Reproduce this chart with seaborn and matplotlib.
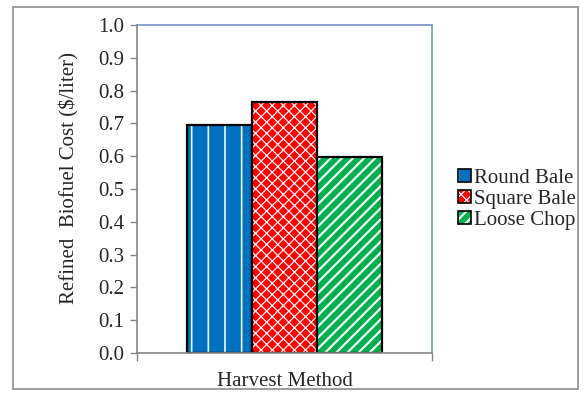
import matplotlib
matplotlib.use("Agg")
import matplotlib.pyplot as plt
import seaborn as sns
import pandas as pd
from matplotlib.patches import Rectangle, Patch

methods = ["Round Bale", "Square Bale", "Loose Chop"]
costs = [0.695, 0.766, 0.598]
group = ["Harvest Method"] * 3
colors = ["#0070c0", "#ff0000", "#00b050"]
hatches = ["|", "xxx", "///"]
hatch_lw = [1.2, 0.9, 1.6]
yticks = [0.0, 0.1, 0.2, 0.3, 0.4, 0.5, 0.6, 0.7, 0.8, 0.9, 1.0]

sns.set_theme(style="white")
plt.rcParams["font.family"] = ["Liberation Serif", "DejaVu Serif"]
plt.rcParams["hatch.linewidth"] = 1.2

df = pd.DataFrame({"group": group, "method": methods, "cost": costs})

fig = plt.figure(figsize=(5.84, 3.93), dpi=100)
ax = fig.add_axes([137/584, 1-353/393, (432-137)/584, (353-25)/393])

sns.barplot(data=df, x="group", y="cost", hue="method", hue_order=methods,
            palette=colors, width=0.66, ax=ax, legend=False, saturation=1,
            edgecolor="black", linewidth=1.6)


def style_hatch(p, h, lw):
    p.set_hatch(h)
    p._hatch_color = (1, 1, 1, 0.95)
    if hasattr(p, "set_hatch_linewidth"):
        p.set_hatch_linewidth(lw)
    elif hasattr(p, "_hatch_linewidth"):
        p._hatch_linewidth = lw


for p, h, lw in zip(ax.patches, hatches, hatch_lw):
    style_hatch(p, h, lw)

ax.set_xlim(-0.5, 0.5)
ax.set_ylim(0, 1.0)
ax.set_yticks(yticks)
ax.set_yticklabels([f"{v:.1f}" for v in yticks], fontsize=15)
ax.set_xticks([-0.5, 0.5])
ax.set_xticklabels(["", ""])
ax.tick_params(axis="both", direction="out", length=5, width=1, color="#868686",
               left=True, bottom=True, pad=4)
ax.tick_params(axis="x", length=6)
ax.set_xlabel("Harvest Method", fontsize=15)
ax.xaxis.set_label_coords(0.5, (353-372)/328)
ax.set_ylabel("Refined  Biofuel Cost ($/liter)", fontsize=15)
ax.yaxis.set_label_coords((79-137)/295, (353-178)/328)

for s in ["left", "bottom"]:
    ax.spines[s].set_color("#868686")
    ax.spines[s].set_linewidth(1.2)
for s in ["top", "right"]:
    ax.spines[s].set_color("#6f95cc")
    ax.spines[s].set_linewidth(1.2)

handles = []
for c, h, m in zip(colors, hatches, methods):
    ph = Patch(facecolor=c, edgecolor="black", hatch=h, linewidth=1.2, label=m)
    handles.append(ph)
leg = fig.legend(handles=handles, loc="upper left", bbox_to_anchor=(458/584, 1-169/393),
                 frameon=False, fontsize=15, handlelength=0.6, handleheight=0.6,
                 handletextpad=0.15, labelspacing=0.1, borderaxespad=0, borderpad=0)
for ph, h, lw in zip(leg.legend_handles, hatches, hatch_lw):
    style_hatch(ph, h, lw)

fig.patches.append(Rectangle((13/584, 1-389/393), (578-13)/584, (389-7)/393,
                             transform=fig.transFigure, fill=False,
                             edgecolor="#8c8c8c", linewidth=1.2))

fig.savefig("out.png", dpi=100)
